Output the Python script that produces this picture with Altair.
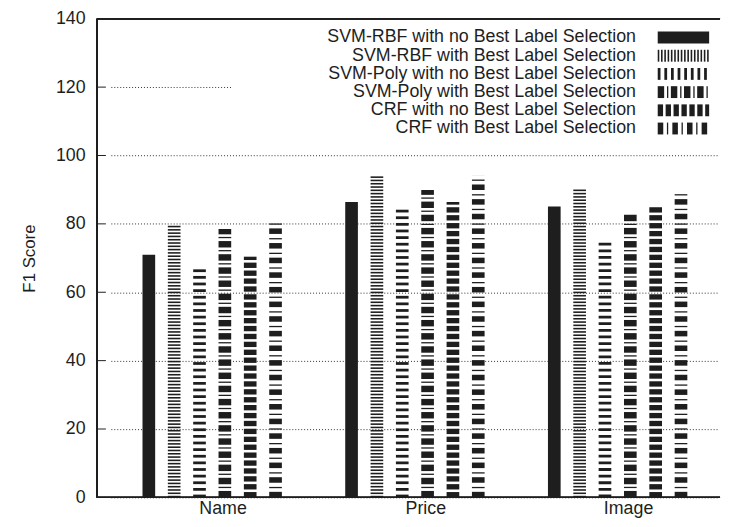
import altair as alt
import pandas as pd

# ---------------- data ----------------
categories = ["Name", "Price", "Image"]
series = [
    "SVM-RBF with no Best Label Selection",
    "SVM-RBF with Best Label Selection",
    "SVM-Poly with no Best Label Selection",
    "SVM-Poly with Best Label Selection",
    "CRF with no Best Label Selection",
    "CRF with Best Label Selection",
]
svm_rbf_no = [71.0, 86.4, 85.1]
svm_rbf_best = [79.8, 94.2, 90.1]
svm_poly_no = [67.8, 84.9, 75.6]
svm_poly_best = [78.5, 89.9, 83.4]
crf_no = [70.4, 86.4, 85.1]
crf_best = [80.2, 94.2, 89.9]
y_ticks = [0, 20, 40, 60, 80, 100, 120, 140]

values = [svm_rbf_no, svm_rbf_best, svm_poly_no, svm_poly_best, crf_no, crf_best]

# ---------------- styles ----------------
W, H = 630, 484
YMAX = 140
PPU = H / YMAX  # pixels per data unit
INK = "#1e1e1e"
FONT = "Liberation Sans"
FS = 18

# pattern (pixels): period, block offset, block thickness, line offset, line thickness
patterns = [
    (1000.0, 0.0, 1000.0, 0.0, 0.0),
    (3.33, 0.0, 1.6, 0.0, 0.0),
    (6.7, 0.0, 2.8, 0.0, 0.0),
    (13.3, 0.0, 6.5, 9.4, 1.3),
    (8.0, 0.0, 5.4, 0.0, 0.0),
    (14.8, 0.0, 5.6, 9.3, 1.3),
]

rows = []
for si, s in enumerate(series):
    P, ao, at, bo, bt = patterns[si]
    for ci, c in enumerate(categories):
        rows.append(dict(category=c, series=s, value=values[si][ci],
                         P=P, ao=ao, at=at, bo=bo, bt=bt))
bars_df = pd.DataFrame(rows)

leg_rows = []
for si, s in enumerate(series):
    P, ao, at, bo, bt = patterns[si]
    leg_rows.append(dict(series=s, row=si, P=P, ao=ao, at=at, bo=bo, bt=bt))
leg_df = pd.DataFrame(leg_rows)

tick_df = pd.DataFrame({"t": y_ticks[1:-1]})


def y_scale():
    return alt.Scale(domain=[0, YMAX], nice=False, zero=True)


def x_scale():
    return alt.Scale(domain=categories, range=[14, 629], paddingInner=0, paddingOuter=0)


def xoff_enc():
    return alt.XOffset(
        "series:N", sort=series,
        scale=alt.Scale(domain=series, range=[25.6, 179.35], paddingInner=0.5, paddingOuter=0.25),
    )


def stripe_layer(off, thk, with_axis):
    if with_axis:
        y_axis = alt.Axis(
            values=y_ticks, title="F1 Score", titleFont=FONT, titleFontSize=17,
            titleFontWeight="normal", titleColor=INK, titleAngle=270,
            titleX=-68, titleY=H / 2, titleAlign="center", titleBaseline="middle",
            labelFont=FONT, labelFontSize=FS, labelColor=INK, labelPadding=12,
            ticks=False, domain=False, grid=True, gridDash=[1, 2],
            gridColor="#333333", gridWidth=1, gridOpacity=1,
        )
        x_axis = alt.Axis(
            title=None, labelFontSize=FS, labelFont=FONT, labelColor=INK,
            ticks=False, domain=False, labelPadding=2, labelOffset=11,
            labelAngle=0, grid=False,
        )
    else:
        y_axis = None
        x_axis = None
    return (
        alt.Chart(bars_df)
        .transform_calculate(
            n=f"sequence(0, ceil(datum.value * {PPU} / datum.P) + 1)"
        )
        .transform_flatten(["n"], as_=["k"])
        .transform_calculate(
            y0=f"(datum.k * datum.P + datum.{off}) / {PPU}",
        )
        .transform_calculate(
            y1=f"min(datum.y0 + datum.{thk} / {PPU}, datum.value)"
        )
        .transform_filter(f"datum.{thk} > 0 && datum.y0 < datum.value")
        .mark_bar(color=INK)
        .encode(
            x=alt.X("category:N", sort=categories, scale=x_scale(), axis=x_axis),
            xOffset=xoff_enc(),
            y=alt.Y("y0:Q", scale=y_scale(), axis=y_axis),
            y2="y1:Q",
        )
    )


blocks = stripe_layer("ao", "at", True)
lines = stripe_layer("bo", "bt", False)

# white key box hiding grid lines
key_box = alt.Chart(tick_df).mark_rect(fill="white").encode(
    x=alt.value(137), x2=alt.value(W), y=alt.value(1), y2=alt.value(128)
)

ticks = alt.Chart(tick_df).mark_rule(color=INK, strokeWidth=1).encode(
    y=alt.Y("t:Q", scale=y_scale(), axis=None), x=alt.value(0), x2=alt.value(9)
)

frame_top = alt.Chart(tick_df).mark_rule(color=INK, strokeWidth=1.5).encode(
    x=alt.value(0), x2=alt.value(W), y=alt.value(0)
)
frame_bottom = alt.Chart(tick_df).mark_rule(color=INK, strokeWidth=1.5).encode(
    x=alt.value(0), x2=alt.value(W), y=alt.value(H)
)
frame_left = alt.Chart(tick_df).mark_rule(color=INK, strokeWidth=1.5).encode(
    x=alt.value(0), y=alt.value(0), y2=alt.value(H)
)

# legend
LEG_TEXT_X = 545
SW_X0, SW_X1 = 567, 619
ROW0, ROWSTEP = 19, 18.4

leg_text = (
    alt.Chart(leg_df)
    .transform_calculate(ry=f"{ROW0} + datum.row * {ROWSTEP}")
    .mark_text(align="right", baseline="middle", fontSize=FS, font=FONT, color=INK)
    .encode(x=alt.value(LEG_TEXT_X), y=alt.Y("ry:Q", scale=None), text="series:N")
)


def swatch_layer(off, thk):
    return (
        alt.Chart(leg_df)
        .transform_calculate(
            ry=f"{ROW0} + datum.row * {ROWSTEP}",
            n=f"sequence(0, ceil({SW_X1 - SW_X0} / datum.P) + 1)",
        )
        .transform_flatten(["n"], as_=["k"])
        .transform_calculate(
            x0=f"{SW_X0} + datum.k * datum.P + datum.{off}",
            ya="datum.ry - 6",
            yb="datum.ry + 6",
        )
        .transform_calculate(x1=f"min(datum.x0 + datum.{thk}, {SW_X1})")
        .transform_filter(f"datum.{thk} > 0 && datum.x0 < {SW_X1}")
        .mark_rect(color=INK)
        .encode(
            x=alt.X("x0:Q", scale=None),
            x2="x1:Q",
            y=alt.Y("ya:Q", scale=None),
            y2="yb:Q",
        )
    )


chart = (
    alt.layer(
        blocks, key_box, lines, ticks, frame_top, frame_bottom, frame_left,
        leg_text, swatch_layer("ao", "at"), swatch_layer("bo", "bt"),
    )
    .resolve_scale(x="independent", y="independent")
    .properties(
        width=W, height=H,
        autosize=alt.AutoSizeParams(type="none"),
        padding={"left": 90, "top": 8, "right": 2, "bottom": 19},
        background="white",
    )
    .configure_view(stroke=None)
)

chart.save("out.html", embed_options={"renderer": "svg", "actions": False})
